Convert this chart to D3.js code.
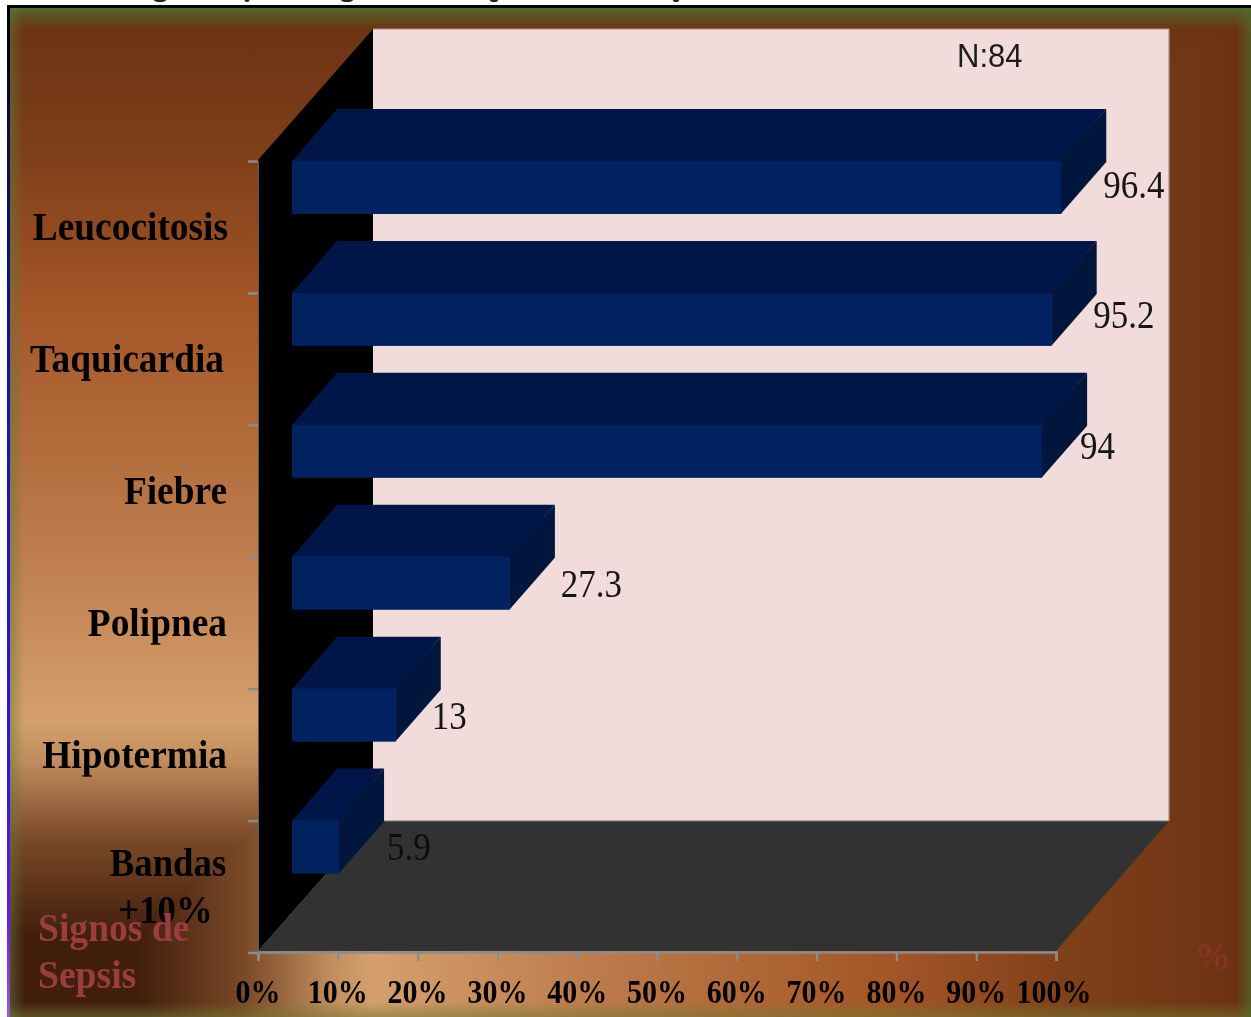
<!DOCTYPE html>
<html><head><meta charset="utf-8">
<script src="https://cdn.jsdelivr.net/npm/d3@7"></script>
<style>html,body{margin:0;padding:0;background:#fff;overflow:hidden}svg{display:block}text{font-family:"Liberation Serif",serif}</style>
</head><body>
<svg id="c" width="1251" height="1017"></svg>
<script>
const categories = [["Leucocitosis"],["Taquicardia"],["Fiebre"],["Polipnea"],["Hipotermia"],["Bandas","+10%"]];
const values = [96.4,95.2,94,27.3,13,5.9];
const valueLabels = ["96.4","95.2","94","27.3","13","5.9"];
const xTicks = [0,10,20,30,40,50,60,70,80,90,100];
const yAxisLabel = ["Signos de","Sepsis"];
const xAxisLabel = "%";
const note = "N:84";

// layout (separate from the data)
const labelDx = [42,41.5,38,51,36,48], labelDy = [37,35,34,40,40,39];
const catDx = [1,-3,0,0,0,0];
const svg = d3.select("#c"), defs = svg.append("defs");
const W=1251,H=1017;
const front = {x:258,y:951}, wallDx=115, wallDy=130, barDx=45, barDy=52, barH=53, barInset=34;
const x = d3.scaleLinear().domain([0,100]).range([front.x,1056]);
const y = d3.scaleLinear().domain([0,6]).range([161,952.5]);
const barX = v => x(v)+barInset;

function lin(id,x1,y1,x2,y2,stops){
  const g=defs.append("linearGradient").attr("id",id).attr("gradientUnits","userSpaceOnUse")
    .attr("x1",x1).attr("y1",y1).attr("x2",x2).attr("y2",y2);
  stops.forEach(s=>g.append("stop").attr("offset",s[0]).attr("stop-color",s[1]).attr("stop-opacity",s[2]===undefined?1:s[2]));
}
const bgStops=[[0,"#d4a06c"],[.25,"#bd7c4b"],[.6,"#a35527"],[.8,"#7f4019"],[1,"#6b3213"]];
const cx=372,cy=722,rx=1240,ry=18;
lin("bgUp",0,cy,0,ry,bgStops);
lin("bgRight",cx,0,rx,0,bgStops);
const blobStops=[[0,"#d4a06c"],[.18,"#c08d5d"],[.55,"#7a4928"],[1,"#421f0c"]];
lin("blobUp",0,722,0,935,blobStops);
lin("blobRight",372,0,140,0,blobStops);
lin("edgeT",0,8,0,30,[[0,"#4f6e2a",1],[.2,"#4f6e2a",.65],[1,"#4f6e2a",0]]);
lin("edgeB",0,1017,0,1002,[[0,"#6f7a30",.55],[1,"#6f7a30",0]]);
lin("edgeL",10,0,24,0,[[0,"#5f7a3a",.5],[1,"#5f7a3a",0]]);
lin("edgeR",1251,0,1236,0,[[0,"#4f6a2a",.7],[1,"#4f6a2a",0]]);
lin("frameL",0,8,0,1017,[[0,"#000"],[.12,"#0a0a50"],[.4,"#1414b4"],[.75,"#2a18e0"],[.9,"#6a18e8"],[1,"#9060d0"]]);

const f=defs.append("filter").attr("id","soft").attr("x","-5%").attr("y","-5%").attr("width","110%").attr("height","110%");
f.append("feGaussianBlur").attr("stdDeviation",0.55);
const ft=defs.append("filter").attr("id","softT").attr("x","-5%").attr("y","-5%").attr("width","110%").attr("height","110%");
ft.append("feGaussianBlur").attr("stdDeviation",0.45);

const poly=(g,pts,fill)=>g.append("polygon").attr("points",pts.map(p=>p.join(",")).join(" ")).attr("fill",fill);

// background: rectangular path gradient built of overlapping sectors, so no seam shows
const bg=svg.append("g");
bg.append("rect").attr("x",8).attr("y",8).attr("width",W-8).attr("height",H-8).attr("fill","url(#bgUp)");
poly(bg,[[cx,cy],[W,8],[W,H],[cx,H]],"url(#bgRight)");
bg.append("rect").attr("x",8).attr("y",722).attr("width",364).attr("height",H-722).attr("fill","url(#blobUp)");
poly(bg,[[372,722],[372,H],[140,H],[140,935]],"url(#blobRight)");
// edges
bg.append("rect").attr("x",8).attr("y",8).attr("width",W-8).attr("height",22).attr("fill","url(#edgeT)");
bg.append("rect").attr("x",8).attr("y",1002).attr("width",W-8).attr("height",15).attr("fill","url(#edgeB)");
bg.append("rect").attr("x",8).attr("y",8).attr("width",16).attr("height",H-8).attr("fill","url(#edgeL)");
bg.append("rect").attr("x",1236).attr("y",8).attr("width",15).attr("height",H-8).attr("fill","url(#edgeR)");

// frame
svg.append("rect").attr("x",7).attr("y",5).attr("width",W-7).attr("height",3).attr("fill","#000");
svg.append("rect").attr("x",7).attr("y",8).attr("width",3).attr("height",H-8).attr("fill","url(#frameL)");
// clipped remnants of the line above the picture
[[160,6],[247,2.5],[347,6],[494,4],[676,3]].forEach(d=>svg.append("ellipse").attr("cx",d[0]).attr("cy",0).attr("rx",d[1]).attr("ry",2).attr("fill","#222"));

const plot=svg.append("g").attr("filter","url(#soft)");
// walls and floor
const fx=front.x, fy=front.y, wallRight=x(100)+wallDx-2;
const wallTop=29, wallBot=fy-wallDy;
plot.append("rect").attr("x",fx+wallDx).attr("y",wallTop).attr("width",wallRight-fx-wallDx).attr("height",wallBot-wallTop).attr("fill","#f2dcdb");
plot.append("path").attr("d",`M${fx+wallDx},${wallTop}H${wallRight}V${wallBot}`).attr("fill","none").attr("stroke","#a8908c").attr("stroke-width",1.2);
poly(plot,[[fx,y(0)-1],[fx+wallDx,wallTop],[fx+wallDx,wallBot],[fx,fy]],"#000");
poly(plot,[[fx,fy],[fx+wallDx,wallBot],[wallRight,wallBot],[x(100),fy]],"#333333");
plot.append("line").attr("x1",fx+wallDx).attr("x2",wallRight).attr("y1",wallBot).attr("y2",wallBot).attr("stroke","#777").attr("stroke-width",1.2);

// axes
const xAxis=d3.axisBottom(x).tickValues(xTicks).tickSize(9).tickFormat(d=>d+"%");
const gx=plot.append("g").attr("transform",`translate(0,${fy+1})`).call(xAxis);
gx.select(".domain").attr("stroke","#8c8c8c").attr("stroke-width",2.4);
gx.selectAll(".tick line").attr("stroke","#8c8c8c").attr("stroke-width",2.2);
gx.selectAll(".tick text").remove();
const gy=plot.append("g").attr("transform",`translate(${fx},0)`)
  .call(d3.axisLeft(y).tickValues(d3.range(7)).tickSize(10).tickFormat(""));
gy.select(".domain").attr("stroke","#6f6f6f").attr("stroke-width",.8);
gy.selectAll(".tick line").attr("stroke","#8c8c8c").attr("stroke-width",2.4);

// bars
const bars=plot.selectAll("g.bar").data(values).join("g").attr("class","bar");
bars.each(function(v,i){
  const g=d3.select(this), x0=x(0)+barInset, x1=barX(v), t=y(i), b=t+barH;
  poly(g,[[x0,t+.5],[x0+barDx,t-barDy],[x1+barDx,t-barDy],[x1+.5,t+.5]],"#001848");
  poly(g,[[x1-.5,t],[x1+barDx,t-barDy],[x1+barDx,b-barDy],[x1-.5,b]],"#00143c");
  g.append("rect").attr("x",x0).attr("y",t).attr("width",x1-x0).attr("height",barH).attr("fill","#002060");
});

// text (slightly stretched vertically like the reference)
const txt=svg.append("g").attr("filter","url(#softT)");
function put(s,px,py,size,opt={}){
  const sy=opt.sy||1.12;
  return txt.append("text").attr("transform",`translate(${px},${py}) scale(1,${sy})`)
    .attr("text-anchor",opt.anchor||"start").attr("font-size",size)
    .attr("font-weight",opt.weight||"normal").attr("fill",opt.fill||"#050505")
    .style("font-family",opt.family||null).text(s);
}
categories.forEach((lines,i)=>{
  const base=y(i)+79;
  if(lines.length===1) put(lines[0],227+catDx[i],base,37.4,{anchor:"end",weight:"bold",sy:1.06});
  else{
    put(lines[0],168,base-23.5,36.8,{anchor:"middle",weight:"bold",sy:1.08});
    put(lines[1],165.5,base+23.5,36.8,{anchor:"middle",weight:"bold",sy:1.08});
  }
});
xTicks.forEach(t=>put(t+"%",x(t)+(t===100?-2:0),1003,30,{anchor:"middle",weight:"bold",sy:1.1}));
values.forEach((v,i)=>put(valueLabels[i],barX(v)+labelDx[i],y(i)+labelDy[i],35,{sy:1.12,fill:i===5?"#111":"#141414"}));
put(note,957,67,31,{family:"'Liberation Sans',sans-serif",sy:1.08,fill:"#1c1c1c"});
yAxisLabel.forEach((s,i)=>put(s,38,941+i*47,37.6,{weight:"bold",fill:"#9a3c3f",sy:1.08}));
put(xAxisLabel,1197,969,38,{fill:"#8e3030",sy:1.0});
</script>
</body></html>
